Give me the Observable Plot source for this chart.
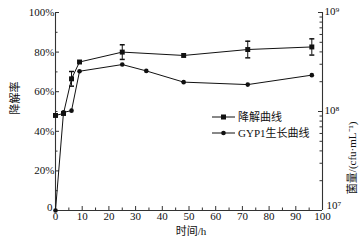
<!DOCTYPE html>
<html><head><meta charset="utf-8">
<script src="https://cdn.jsdelivr.net/npm/d3@7"></script>
<script src="https://cdn.jsdelivr.net/npm/@observablehq/plot@0.6"></script>
<style>
body{margin:0;background:#fff;}
#wrap{position:relative;width:362px;height:245px;}
#wrap svg{position:absolute;left:0;top:0;}
</style></head>
<body><div id="wrap"></div>
<script>
// Data
const times = [0, 3, 6, 9, 25, 48, 72, 96];
const degradation = [48, 49, 66.5, 75, 80, 78.3, 81.3, 82.6]; // %
const degErr = [0, 0, 3.7, 0, 3.7, 0, 4.2, 4.1];
const growthTimes = [0, 3, 6, 9, 25, 34, 48, 72, 96];
const growth = [1.0e7, 9.8e7, 1.02e8, 2.55e8, 2.98e8, 2.57e8, 1.98e8, 1.87e8, 2.33e8]; // cfu/mL
const xTicks = [0, 10, 20, 30, 40, 50, 60, 70, 80, 90, 100];
const xMinor = [5, 15, 25, 35, 45, 55, 65, 75, 85, 95];
const yTicks = [0, 20, 40, 60, 80, 100];
const yLabels = ["0", "20%", "40%", "60%", "80%", "100%"];
const yMinor = [10, 30, 50, 70, 90];
const rTicks = [1e7, 1e8, 1e9];
const rLabels = ["10\u2077", "10\u2078", "10\u2079"];
const rMinor = [2e7,3e7,4e7,5e7,6e7,7e7,8e7,9e7,2e8,3e8,4e8,5e8,6e8,7e8,8e8,9e8];
const legendNames = ["降解曲线", "GYP1生长曲线"];

// map cfu (log 1e7..1e9) onto the 0..100 left scale
const toPct = v => (Math.log10(v) - 7) / 2 * 100;

const deg = times.map((t, i) => ({t, v: degradation[i], e: degErr[i]}));
const gro = growthTimes.map((t, i) => ({t, v: toPct(growth[i])}));
const errs = deg.filter(d => d.e > 0);

const W = 362, H = 245, mL = 55, mR = 40, mT = 12, mB = 35;
const pw = W - mL - mR, ph = H - mT - mB;
const font = "'Liberation Serif','Times New Roman','Noto Sans CJK SC',serif";
const ink = "#111";

const cap = {draw(ctx, size) { const r = Math.sqrt(size / Math.PI); ctx.moveTo(-r, 0); ctx.lineTo(r, 0); }};

const plot = Plot.plot({
  width: W, height: H,
  marginLeft: mL, marginRight: mR, marginTop: mT, marginBottom: mB,
  x: {domain: [0, 100], axis: null},
  y: {domain: [0, 100], axis: null},
  style: {fontFamily: font, fontSize: "11px", color: ink, background: "#fff"},
  marks: [
    // axis lines
    Plot.ruleX([0, 100], {stroke: "#333", strokeWidth: 1.1}),
    Plot.ruleY([0], {stroke: "#333", strokeWidth: 1.1}),
    // x ticks (inward)
    Plot.ruleX(xTicks, {x: d => d, insetTop: ph - 4, stroke: "#333"}),
    Plot.ruleX(xMinor, {x: d => d, insetTop: ph - 2.5, stroke: "#333"}),
    Plot.text(xTicks, {x: d => d, frameAnchor: "bottom", dy: 9, text: d => String(d), fill: ink}),
    // left ticks
    Plot.ruleY(yTicks.slice(1), {y: d => d, insetRight: pw - 4, stroke: "#333"}),
    Plot.ruleY(yMinor, {y: d => d, insetRight: pw - 2.5, stroke: "#333"}),
    Plot.text(yTicks.slice(1), {y: d => d, frameAnchor: "left", textAnchor: "end", dx: -1, text: (d, i) => yLabels[i + 1], fill: ink}),
    Plot.text(yTicks.slice(0, 1), {y: d => d, frameAnchor: "left", textAnchor: "end", dx: -3, dy: -3, text: (d, i) => yLabels[i], fill: ink}),
    // right ticks (log)
    Plot.ruleY(rTicks, {y: d => toPct(d), insetLeft: pw - 4, stroke: "#333"}),
    Plot.ruleY(rMinor, {y: d => toPct(d), insetLeft: pw - 2.5, stroke: "#333"}),
    Plot.text(rTicks.slice(1), {y: d => toPct(d), frameAnchor: "right", textAnchor: "start", dx: 2, dy: -1, text: (d, i) => rLabels[i + 1], fill: ink}),
    Plot.text(rTicks.slice(0, 1), {y: d => toPct(d), frameAnchor: "right", textAnchor: "start", dx: 4, dy: -5, text: (d, i) => rLabels[i], fill: ink}),
    // axis titles
    Plot.text(["降解率"], {frameAnchor: "left", dx: -40, dy: 3, rotate: -90, text: d => d, fill: ink, fontSize: 11}),
    Plot.text(["菌量/(cfu·mL\u207B\u00B9)"], {frameAnchor: "right", dx: 30, dy: 10, rotate: -90, text: d => d, fill: ink, fontSize: 11}),
    Plot.text(["时间/h"], {frameAnchor: "bottom", dx: 2, dy: 24, text: d => d, fill: ink, fontSize: 11}),
    // error bars
    Plot.ruleX(errs, {x: "t", y1: d => d.v - d.e, y2: d => d.v + d.e, stroke: ink}),
    Plot.dot(errs, {x: "t", y: d => d.v + d.e, symbol: cap, r: 2.5, stroke: ink}),
    Plot.dot(errs, {x: "t", y: d => d.v - d.e, symbol: cap, r: 2.5, stroke: ink}),
    // series
    Plot.line(gro, {x: "t", y: "v", stroke: ink, strokeWidth: 1}),
    Plot.dot(gro, {x: "t", y: "v", r: 2.3, fill: ink, stroke: "none"}),
    Plot.line(deg, {x: "t", y: "v", stroke: ink, strokeWidth: 1}),
    Plot.dot(deg, {x: "t", y: "v", symbol: "square", r: 2.8, fill: ink, stroke: "none"})
  ]
});
document.getElementById("wrap").appendChild(plot);

// legend
const lg = d3.select("#wrap").append("svg").attr("width", W).attr("height", H)
  .style("pointer-events", "none").attr("font-family", font).attr("font-size", 11);
const rows = [117, 133];
legendNames.forEach((name, i) => {
  const y = rows[i];
  lg.append("line").attr("x1", 212).attr("x2", 235).attr("y1", y).attr("y2", y).attr("stroke", ink);
  if (i === 0) lg.append("rect").attr("x", 223.5 - 2.5).attr("y", y - 2.5).attr("width", 5).attr("height", 5).attr("fill", ink);
  else lg.append("circle").attr("cx", 223.5).attr("cy", y).attr("r", 2.3).attr("fill", ink);
  lg.append("text").attr("x", 238).attr("y", y + 4).attr("fill", ink).text(name);
});
</script></body></html>
